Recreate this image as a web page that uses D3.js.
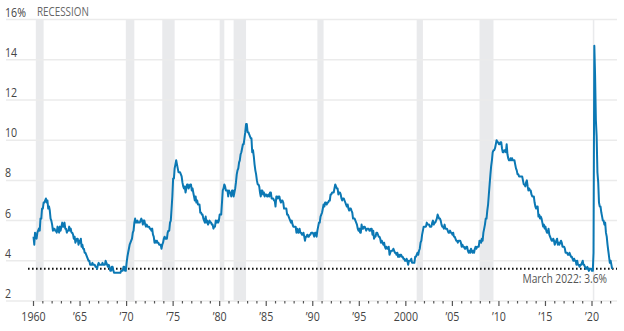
<!DOCTYPE html>
<html><head><meta charset="utf-8">
<script src="https://cdn.jsdelivr.net/npm/d3@7"></script>
<style>
html,body{margin:0;padding:0;background:#fff;}
svg{display:block;font-family:"Open Sans","Liberation Sans",sans-serif;}
</style></head>
<body><svg id="c" width="624" height="331"></svg>
<script>
// Monthly US unemployment rate (%), starting January 1960, through March 2022
const startYear = 1960;
const rates = [
5.2,4.8,5.4,5.2,5.1,5.4,5.5,5.6,5.5,6.1,6.1,6.6,
6.6,6.9,6.9,7.0,7.1,6.9,7.0,6.6,6.7,6.5,6.1,6.0,
5.8,5.5,5.6,5.6,5.5,5.5,5.4,5.7,5.6,5.4,5.7,5.5,
5.7,5.9,5.7,5.7,5.9,5.6,5.6,5.4,5.5,5.5,5.7,5.5,
5.6,5.4,5.4,5.3,5.1,5.2,4.9,5.0,5.1,5.1,4.8,5.0,
4.9,5.1,4.7,4.8,4.6,4.6,4.4,4.4,4.3,4.2,4.1,4.0,
4.0,3.8,3.8,3.8,3.9,3.8,3.8,3.8,3.7,3.7,3.6,3.8,
3.9,3.8,3.8,3.8,3.8,3.9,3.8,3.8,3.8,4.0,3.9,3.8,
3.7,3.8,3.7,3.5,3.5,3.7,3.7,3.5,3.4,3.4,3.4,3.4,
3.4,3.4,3.4,3.4,3.4,3.5,3.5,3.5,3.7,3.7,3.5,3.5,
3.9,4.2,4.4,4.6,4.8,4.9,5.0,5.1,5.4,5.5,5.9,6.1,
5.9,5.9,6.0,5.9,5.9,5.9,6.0,6.1,6.0,5.8,6.0,6.0,
5.8,5.7,5.8,5.7,5.7,5.7,5.6,5.6,5.5,5.6,5.3,5.2,
4.9,5.0,4.9,5.0,4.9,4.9,4.8,4.8,4.8,4.6,4.8,4.9,
5.1,5.2,5.1,5.1,5.1,5.4,5.5,5.5,5.9,6.0,6.6,7.2,
8.1,8.1,8.6,8.8,9.0,8.8,8.6,8.4,8.4,8.4,8.3,8.2,
7.9,7.7,7.6,7.7,7.4,7.6,7.8,7.8,7.6,7.7,7.8,7.8,
7.5,7.6,7.4,7.2,7.0,7.2,6.9,7.0,6.8,6.8,6.8,6.4,
6.4,6.3,6.3,6.1,6.0,5.9,6.2,5.9,6.0,5.8,5.9,6.0,
5.9,5.9,5.8,5.8,5.6,5.7,5.7,6.0,5.9,6.0,5.9,6.0,
6.3,6.3,6.3,6.9,7.5,7.6,7.8,7.7,7.5,7.5,7.5,7.2,
7.5,7.4,7.4,7.2,7.5,7.5,7.2,7.4,7.6,7.9,8.3,8.5,
8.6,8.9,9.0,9.3,9.4,9.6,9.8,9.8,10.1,10.4,10.8,10.8,
10.4,10.4,10.3,10.2,10.1,10.1,9.4,9.5,9.2,8.8,8.5,8.3,
8.0,7.8,7.8,7.7,7.4,7.2,7.5,7.5,7.3,7.4,7.2,7.3,
7.3,7.2,7.2,7.3,7.2,7.4,7.4,7.1,7.1,7.1,7.0,7.0,
6.7,7.2,7.2,7.1,7.2,7.2,7.0,6.9,7.0,7.0,6.9,6.6,
6.6,6.6,6.6,6.3,6.3,6.2,6.1,6.0,5.9,6.0,5.8,5.7,
5.7,5.7,5.7,5.4,5.6,5.4,5.4,5.6,5.4,5.4,5.3,5.3,
5.4,5.2,5.0,5.2,5.2,5.3,5.2,5.2,5.3,5.3,5.4,5.4,
5.4,5.3,5.2,5.4,5.4,5.2,5.5,5.7,5.9,5.9,6.2,6.3,
6.4,6.6,6.8,6.7,6.9,6.9,6.8,6.9,6.9,7.0,7.0,7.3,
7.3,7.4,7.4,7.4,7.6,7.8,7.7,7.6,7.6,7.3,7.4,7.4,
7.3,7.1,7.0,7.1,7.1,7.0,6.9,6.8,6.7,6.8,6.6,6.5,
6.6,6.6,6.5,6.4,6.1,6.1,6.1,6.0,5.9,5.8,5.6,5.5,
5.6,5.4,5.4,5.8,5.6,5.6,5.7,5.7,5.6,5.5,5.6,5.6,
5.6,5.5,5.5,5.6,5.6,5.3,5.5,5.1,5.2,5.2,5.4,5.4,
5.3,5.2,5.2,5.1,4.9,5.0,4.9,4.8,4.9,4.7,4.6,4.7,
4.6,4.6,4.7,4.3,4.4,4.5,4.5,4.5,4.6,4.5,4.4,4.4,
4.3,4.4,4.2,4.3,4.2,4.3,4.3,4.2,4.2,4.1,4.1,4.0,
4.0,4.1,4.0,3.8,4.0,4.0,4.0,4.1,3.9,3.9,3.9,3.9,
4.2,4.2,4.3,4.4,4.3,4.5,4.6,4.9,5.0,5.3,5.5,5.7,
5.7,5.7,5.7,5.9,5.8,5.8,5.8,5.7,5.7,5.7,5.9,6.0,
5.8,5.9,5.9,6.0,6.1,6.3,6.2,6.1,6.1,6.0,5.8,5.7,
5.7,5.6,5.8,5.6,5.6,5.6,5.5,5.4,5.4,5.5,5.4,5.4,
5.3,5.4,5.2,5.2,5.1,5.0,5.0,4.9,5.0,5.0,5.0,4.9,
4.7,4.8,4.7,4.7,4.6,4.6,4.7,4.7,4.5,4.4,4.5,4.4,
4.6,4.5,4.4,4.5,4.4,4.6,4.7,4.6,4.7,4.7,4.7,5.0,
5.0,4.9,5.1,5.0,5.4,5.6,5.8,6.1,6.1,6.5,6.8,7.3,
7.8,8.3,8.7,9.0,9.4,9.5,9.5,9.6,9.8,10.0,9.9,9.9,
9.8,9.8,9.9,9.9,9.6,9.4,9.4,9.5,9.5,9.4,9.8,9.3,
9.1,9.0,9.0,9.1,9.0,9.1,9.0,9.0,9.0,8.8,8.6,8.5,
8.3,8.3,8.2,8.2,8.2,8.2,8.2,8.0,7.8,7.8,7.7,7.9,
8.0,7.7,7.5,7.6,7.5,7.5,7.3,7.2,7.2,7.2,6.9,6.7,
6.6,6.7,6.7,6.2,6.3,6.1,6.2,6.1,5.9,5.7,5.8,5.6,
5.7,5.5,5.4,5.4,5.6,5.3,5.2,5.1,5.0,5.0,5.1,5.0,
4.8,4.9,5.0,5.1,4.8,4.9,4.8,4.9,5.0,4.9,4.7,4.7,
4.7,4.6,4.4,4.4,4.4,4.3,4.3,4.4,4.3,4.2,4.2,4.1,
4.0,4.1,4.0,4.0,3.8,4.0,3.8,3.8,3.7,3.8,3.8,3.9,
4.0,3.8,3.8,3.7,3.6,3.6,3.7,3.6,3.5,3.6,3.6,3.6,
3.5,3.5,4.4,14.7,13.2,11.0,10.2,8.4,7.9,6.9,6.7,6.7,
6.4,6.2,6.0,6.0,5.8,5.9,5.4,5.2,4.8,4.5,4.2,3.9,
4.0,3.8,3.6
];
// NBER recessions [start, end] as "YYYY-MM"
const recessions = [
["1960-04","1961-02"],["1969-12","1970-11"],["1973-11","1975-03"],
["1980-01","1980-07"],["1981-07","1982-11"],["1990-07","1991-03"],
["2001-03","2001-11"],["2007-12","2009-06"],["2020-02","2020-04"]
];
const yTicks = [2,4,6,8,10,12,14,16];
const xTickYears = [1960,1965,1970,1975,1980,1985,1990,1995,2000,2005,2010,2015,2020];
const xTickLabels = ["1960","\u201965","\u201970","\u201975","\u201980","\u201985","\u201990","\u201995","2000","\u201905","\u201910","\u201915","\u201920"];
const latestValue = 3.6;
const latestLabel = "March 2022: 3.6%";

const data = rates.map((v,i)=>({date:new Date(startYear + Math.floor(i/12), i%12, 1), v}));
const parseM = d3.timeParse("%Y-%m");

const svg = d3.select("#c");
const x = d3.scaleTime().domain([new Date(1960,0,1), new Date(2020,0,1)]).range([33.5, 592]);
const y = d3.scaleLinear().domain([2,16]).range([301, 19.6]);
const gridL = 6, gridR = 617;
const SX = 0.82; // horizontal condensing of text to mimic the narrow face

function label(g, tx, ty, txt, opts){
  const t = g.append("text")
    .attr("transform", `translate(${tx},${ty}) scale(${SX},1)`)
    .attr("font-size", opts.size).attr("fill", opts.fill)
    .attr("text-anchor", opts.anchor || "start")
    .text(txt);
  return t;
}

// recession bands
svg.append("g").selectAll("rect").data(recessions).join("rect")
  .attr("x", d=>x(parseM(d[0])))
  .attr("width", d=>Math.max(1.5, x(parseM(d[1])) - x(parseM(d[0]))))
  .attr("y", y(16))
  .attr("height", y(2) - y(16) + 1)
  .attr("fill", "#e9eaec");

// gridlines
svg.append("g").selectAll("line").data(yTicks).join("line")
  .attr("x1", gridL).attr("x2", gridR)
  .attr("y1", d=>y(d)).attr("y2", d=>y(d))
  .attr("stroke", "#ebebeb").attr("stroke-width", 1.5);

// y labels
const gy = svg.append("g");
yTicks.forEach(d=> label(gy, 5, y(d)-3, d===16 ? "16%" : String(d), {size:13, fill:"#444"}));

label(svg, 37, y(16)-4, "RECESSION", {size:12, fill:"#666"});

// x axis ticks
const years = d3.range(1960, 2023);
svg.append("g").selectAll("line").data(years).join("line")
  .attr("x1", d=>x(new Date(d,0,1))).attr("x2", d=>x(new Date(d,0,1)))
  .attr("y1", y(2)).attr("y2", d=> d%5===0 ? y(2)+5 : y(2)+2.5)
  .attr("stroke", "#555").attr("stroke-width", 1.2);

const gx = svg.append("g");
xTickYears.forEach((d,i)=> label(gx, x(new Date(d,0,1)), 321, xTickLabels[i], {size:13, fill:"#444", anchor:"middle"}));

// dotted reference line
svg.append("line")
  .attr("x1", 28).attr("x2", gridR)
  .attr("y1", y(latestValue)).attr("y2", y(latestValue))
  .attr("stroke", "#111").attr("stroke-width", 2).attr("stroke-dasharray", "1.6,2.4");

// series line
svg.append("path").datum(data)
  .attr("fill", "none").attr("stroke", "#0b78b4").attr("stroke-width", 2)
  .attr("stroke-linejoin", "round")
  .attr("d", d3.line().x(d=>x(d.date)).y(d=>y(d.v)));

label(svg, 607, 283, latestLabel, {size:12.5, fill:"#555", anchor:"end"});
</script></body></html>
